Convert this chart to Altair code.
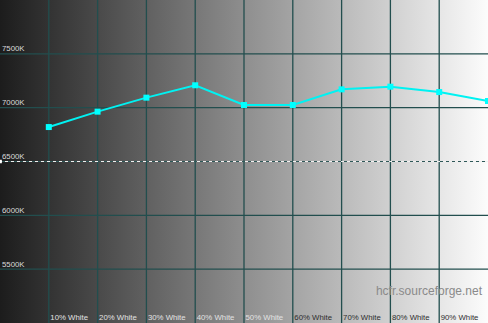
import altair as alt
import pandas as pd

# --- data ---
levels = [10, 20, 30, 40, 50, 60, 70, 80, 90, 100]
temps = [6820, 6963, 7093, 7208, 7025, 7025, 7170, 7195, 7145, 7062]

x_grid = [10, 20, 30, 40, 50, 60, 70, 80, 90]
x_labels = ["10% White", "20% White", "30% White", "40% White", "50% White",
            "60% White", "70% White", "80% White", "90% White"]
y_grid = [5500, 6000, 7000, 7500]
y_ticks = [5500, 6000, 6500, 7000, 7500]
y_labels = ["5500K", "6000K", "6500K", "7000K", "7500K"]
reference_temp = [6500]

X_DOMAIN = [0, 100]
Y_DOMAIN = [5000, 8000]

xs = alt.Scale(domain=X_DOMAIN, nice=False, zero=False)
ys = alt.Scale(domain=Y_DOMAIN, nice=False, zero=False)

series = pd.DataFrame({"level": levels, "temp": temps})
bg = pd.DataFrame({"x0": [X_DOMAIN[0]], "x1": [X_DOMAIN[1]],
                   "y0": [Y_DOMAIN[0]], "y1": [Y_DOMAIN[1]]})
xg = pd.DataFrame({"x": x_grid, "label": x_labels})
yg = pd.DataFrame({"y": y_grid})
yl = pd.DataFrame({"y": y_ticks, "label": y_labels, "x": [X_DOMAIN[0]] * len(y_ticks)})
ref = pd.DataFrame({"y": reference_temp, "x": [X_DOMAIN[0]]})
xg["y"] = Y_DOMAIN[0]

grid_color = "#224e4e"

background = alt.Chart(bg).mark_rect(
    fill=alt.Gradient(
        gradient="linear",
        stops=[alt.GradientStop(color="#1c1c1c", offset=0),
               alt.GradientStop(color="#8e8e8e", offset=0.5),
               alt.GradientStop(color="#fcfcfc", offset=1)],
        x1=0, x2=1, y1=0, y2=0,
    )
).encode(
    x=alt.X("x0:Q", scale=xs, axis=None),
    x2="x1:Q",
    y=alt.Y("y0:Q", scale=ys, axis=None),
    y2="y1:Q",
)

vgrid = alt.Chart(xg).mark_rule(color=grid_color, strokeWidth=1.3).encode(
    x=alt.X("x:Q", scale=xs, axis=None)
)
hgrid = alt.Chart(yg).mark_rule(color=grid_color, strokeWidth=1.3).encode(
    y=alt.Y("y:Q", scale=ys, axis=None)
)

ref_dark = alt.Chart(ref).mark_rule(color="#2f5858", strokeWidth=1).encode(
    y=alt.Y("y:Q", scale=ys, axis=None)
)
ref_white = alt.Chart(ref).mark_rule(color="#f0f0f0", strokeWidth=1,
                                     strokeDash=[3, 3]).encode(
    y=alt.Y("y:Q", scale=ys, axis=None)
)
ref_marker = alt.Chart(ref).mark_point(shape="square", filled=True, size=14,
                                       color="#ffffff", opacity=1).encode(
    x=alt.X("x:Q", scale=xs, axis=None),
    y=alt.Y("y:Q", scale=ys, axis=None),
)

ylabels = alt.Chart(yl).mark_text(
    align="left", baseline="alphabetic", dx=2, dy=-2.5,
    font="Liberation Sans", fontSize=7.8, color="#dadada",
).encode(
    x=alt.X("x:Q", scale=xs, axis=None),
    y=alt.Y("y:Q", scale=ys, axis=None),
    text="label:N",
)

xlabels = alt.Chart(xg).mark_text(
    align="left", baseline="alphabetic", dx=1.5, dy=-3,
    font="Liberation Sans", fontSize=7.8,
).encode(
    x=alt.X("x:Q", scale=xs, axis=None),
    y=alt.Y("y:Q", scale=ys, axis=None),
    text="label:N",
    color=alt.condition(alt.datum.x <= 50, alt.value("#e2e2e2"), alt.value("#2e2e2e")),
)

line = alt.Chart(series).mark_line(color="#00f2f2", strokeWidth=2).encode(
    x=alt.X("level:Q", scale=xs, axis=None),
    y=alt.Y("temp:Q", scale=ys, axis=None),
)
points = alt.Chart(series).mark_point(shape="square", filled=True, size=36,
                                      color="#00ffff", opacity=1).encode(
    x=alt.X("level:Q", scale=xs, axis=None),
    y=alt.Y("temp:Q", scale=ys, axis=None),
)

watermark = alt.Chart(bg).mark_text(
    text="hcfr.sourceforge.net", align="right", baseline="alphabetic",
    font="Liberation Sans", fontSize=12, color="#8a8a8a",
).encode(x=alt.value(482), y=alt.value(295))

chart = alt.layer(
    background, vgrid, hgrid, ref_dark, ref_white, ref_marker,
    ylabels, xlabels, watermark, line, points,
).properties(
    width=488, height=323, padding=0, autosize="none",
).configure_view(stroke=None)

chart.save("out.html", embed_options={"renderer": "svg", "actions": False})
